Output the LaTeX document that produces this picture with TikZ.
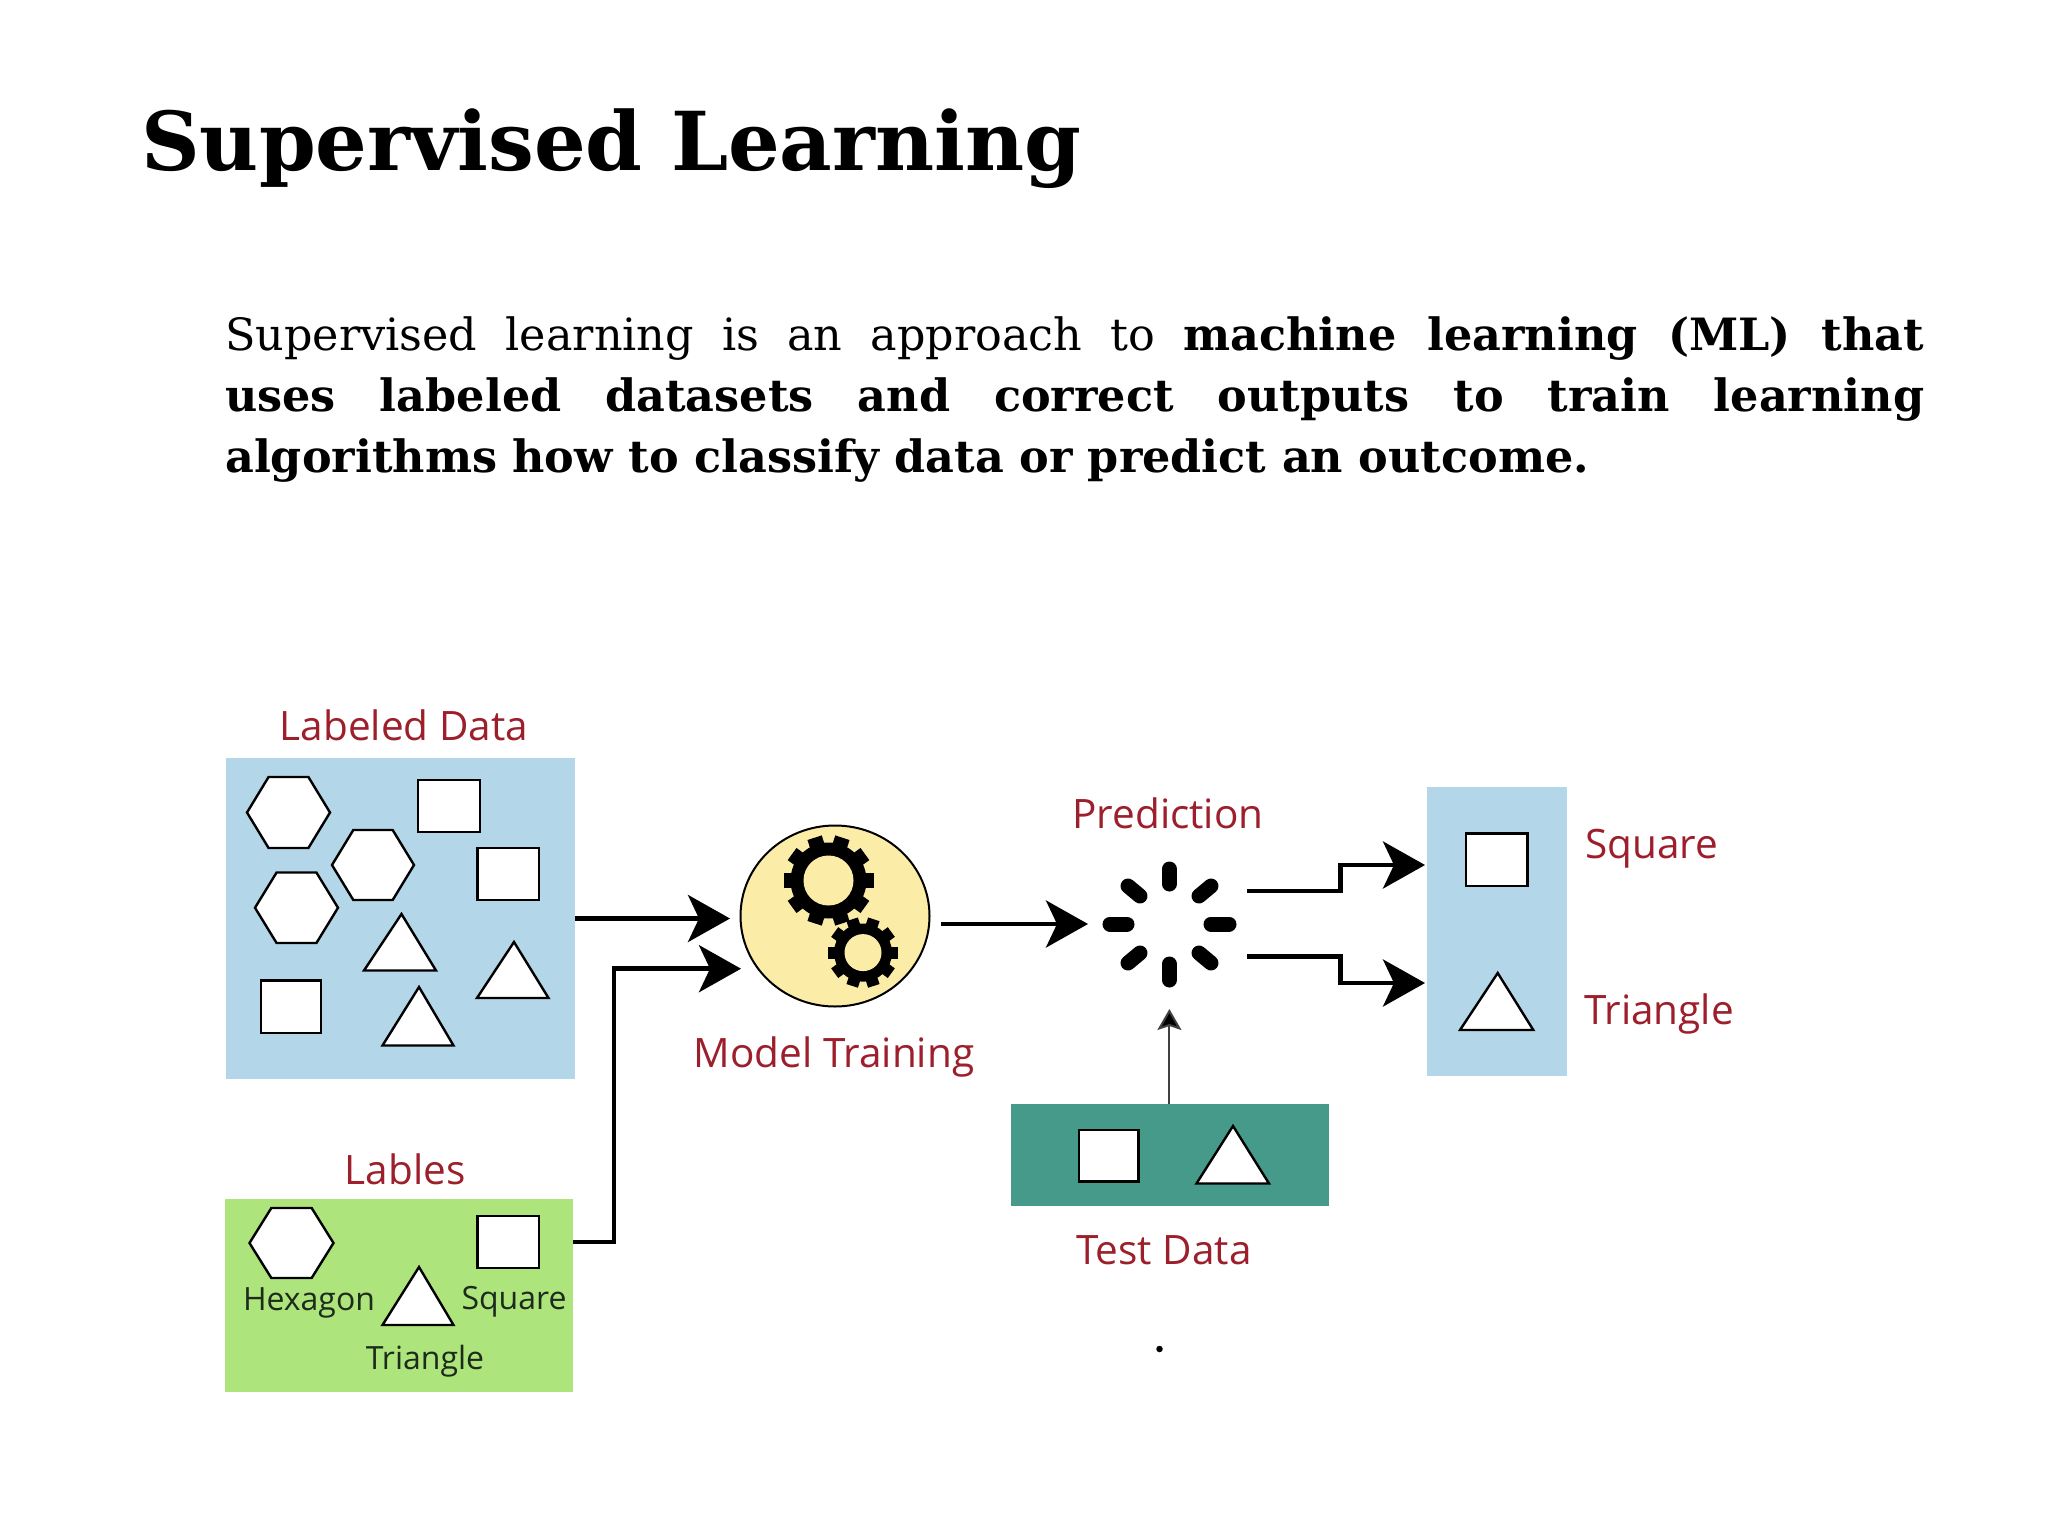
\documentclass[tikz,border=0pt]{standalone}
\usepackage{fontspec}
\setmainfont{DejaVu Serif}
\newfontfamily\labelfont{Open Sans}
\usetikzlibrary{arrows.meta,shapes.geometric,calc}
\definecolor{boxblue}{HTML}{B3D7E8}
\definecolor{boxgreen}{HTML}{AEE47C}
\definecolor{boxteal}{HTML}{459A8A}
\definecolor{modelyellow}{HTML}{FBEDA8}
\definecolor{labelred}{HTML}{9C1F2B}
\definecolor{inktext}{HTML}{1C2B1C}
\tikzset{
  panel/.style={inner sep=0pt,outer sep=0pt,anchor=north west},
  figure/.style={draw=black,fill=white,line width=2.4pt,line join=miter},
  caption/.style={font=\labelfont\fontsize{40.5}{40.5}\selectfont,text=labelred,inner sep=0pt,anchor=center},
  inlabel/.style={font=\labelfont\fontsize{32}{32}\selectfont,text=inktext,inner sep=0pt,anchor=center},
  flow/.style={draw=black,line width=4.5pt,line join=miter,-{Stealth[length=42pt,width=47pt,inset=11pt]}},
  thinflow/.style={draw=black!75,line width=2pt,-{Stealth[length=21pt,width=24pt,inset=4pt,fill=black]}},
  tick/.style={draw=black,line width=15pt,line cap=round},
}
\newcommand{\hexa}[4]{\path[figure] (#1,{(#3+#4)/2}) -- ({#1+0.26*(#2-#1)},#3) -- ({#2-0.26*(#2-#1)},#3) -- (#2,{(#3+#4)/2}) -- ({#2-0.26*(#2-#1)},#4) -- ({#1+0.26*(#2-#1)},#4) -- cycle;}
\newcommand{\sqr}[4]{\path[figure] (#1,#3) rectangle (#2,#4);}
\newcommand{\tri}[5]{\path[figure] (#1,#2) -- (#3,#5) -- (#4,#5) -- cycle;}
\newcommand{\gear}[6]{% cx cy outer body hole toothwidth
  \fill[black] (#1,#2) circle [radius=#4];
  \foreach \a in {0,36,...,324}{
    \fill[black,rotate around={\a+18:(#1,#2)}] ({#1-#6/2},#2) rectangle ({#1+#6/2},{#2-#3});
  }
  \fill[modelyellow] (#1,#2) circle [radius=#5];
}
\begin{document}
\begin{tikzpicture}[x=1pt,y=-1pt]
\useasboundingbox[fill=white] (0,0) rectangle (2048,1536);

% heading and paragraph
\node[inner sep=0pt,anchor=base west,font=\bfseries\fontsize{81.3}{81.3}\selectfont] (title) at (141,170) {Supervised Learning};
\node[inner sep=0pt,anchor=north west,text width=1699pt,align=justify,font=\fontsize{44.5}{61.4}\selectfont] (para) at (225,316)
 {Supervised learning is an approach to \textbf{machine learning (ML) that}\linebreak
  \textbf{uses labeled datasets and correct outputs to train learning}\linebreak
  \textbf{algorithms how to classify data or predict an outcome.}};

% panels
\node[panel,fill=boxblue,minimum width=349pt,minimum height=321pt] (labeled) at (226,758) {};
\node[panel,fill=boxgreen,minimum width=348pt,minimum height=193pt] (labels) at (225,1199) {};
\node[panel,fill=boxteal,minimum width=318pt,minimum height=102pt] (test) at (1011,1104) {};
\node[panel,fill=boxblue,minimum width=140.5pt,minimum height=289pt] (result) at (1426.5,787) {};
\node[ellipse,draw=black,line width=2pt,fill=modelyellow,minimum width=189pt,minimum height=181pt,inner sep=0pt,outer sep=0pt] (model) at (835,916) {};
\node[circle,inner sep=0pt,minimum size=134pt] (spinner) at (1169.4,924) {};

% labeled data figures
\hexa{247}{330}{777}{848}
\hexa{332}{414}{830}{900}
\hexa{255}{338}{872.5}{943}
\sqr{418}{480}{780}{832}
\sqr{477.5}{539}{848}{900}
\sqr{261}{321}{980.5}{1033}
\tri{401.5}{914}{364}{436}{970.5}
\tri{514}{942}{477}{548.5}{998}
\tri{419}{987}{382.5}{453.5}{1045.5}

% labels panel figures
\hexa{249.5}{333.5}{1208}{1278}
\sqr{477.5}{539}{1216}{1268}
\tri{419}{1267}{382.5}{453.5}{1325}

% test and result figures
\sqr{1079}{1138.5}{1130}{1181.5}
\tri{1233}{1126}{1196.5}{1269}{1183.5}
\sqr{1466}{1527.5}{833.5}{886}
\tri{1497.7}{973}{1460}{1533.3}{1030}

% gears
\gear{828.5}{880.5}{45}{38}{25}{15}
\gear{863}{952.6}{35}{29}{18.5}{12}

% spinner ticks
\draw[tick] (1169.4,869) -- (1169.4,884);
\draw[tick] (1169.4,964) -- (1169.4,980);
\draw[tick] (1110,924) -- (1127,924);
\draw[tick] (1211,924) -- (1229,924);
\draw[tick] (1128,886) -- (1140,896);
\draw[tick] (1211,886) -- (1199,896);
\draw[tick] (1128,963) -- (1140,953);
\draw[tick] (1211,963) -- (1199,953);

% connector ends
\coordinate (modelin) at (741,968.7);
\coordinate (modelout) at (941,924);
\coordinate (spinin) at (1088,924);
\coordinate (spinoutA) at (1247,891);
\coordinate (spinoutB) at (1247,956.4);
\coordinate (resA) at (1425,865);
\coordinate (resB) at (1425,983);
\coordinate (spintest) at (1169.4,1009);
\coordinate (modelinA) at ($(model.west)+(-10.5,0)$);
\coordinate (labelsout) at ($(labels.east)+(0,-53.5)$);

% connectors
\draw[flow] (labeled.east) -- (labeled.east -| modelinA);
\draw[flow] (labelsout) -- ++(41,0) |- (modelin);
\draw[flow] (modelout) -- (spinin);
\draw[flow] (spinoutA) -- ++(93.6,0) |- (resA);
\draw[flow] (spinoutB) -- ++(93.6,0) |- (resB);
\draw[thinflow] (test.north -| spintest) -- (spintest);

% captions
\node[caption] (capA) at (404,725) {Labeled Data};
\node[caption] (capB) at (834,1057) {Model Training};
\node[caption] (capC) at (405,1169) {Lables};
\node[caption] (capD) at (1168,813) {Prediction};
\node[caption] (capE) at (1164,1250) {Test Data};
\node[caption,anchor=west] (capF) at (1585,849) {Square};
\node[caption,anchor=west] (capG) at (1584,1014) {Triangle};
\node[inlabel] (inA) at (309,1303) {Hexagon};
\node[inlabel] (inB) at (514,1302) {Square};
\node[inlabel] (inC) at (425,1361) {Triangle};

\node[circle,fill=black,inner sep=0pt,minimum size=6.5pt] (dot) at (1159.5,1349) {};
\end{tikzpicture}
\end{document}
